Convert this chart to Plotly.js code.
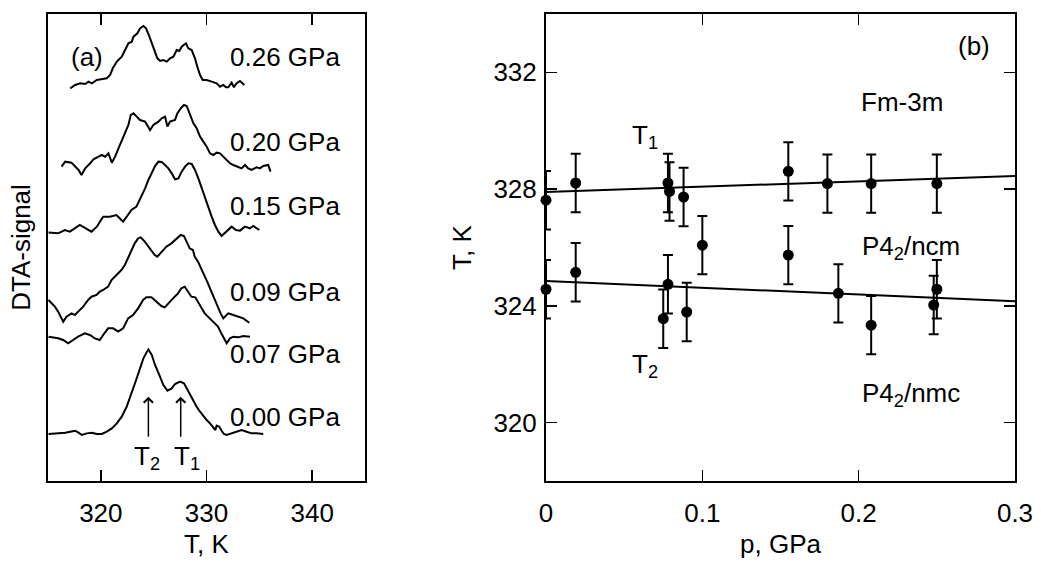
<!DOCTYPE html>
<html>
<head>
<meta charset="utf-8">
<script src="https://cdn.plot.ly/plotly-3.0.1.min.js"></script>
<style>html,body{margin:0;padding:0;background:#fff;}#chart{width:1041px;height:562px;}</style>
</head>
<body>
<div id="chart"></div>
<script>
// ---------- Panel (a): DTA curves (T in K, signal in arbitrary units) ----------
const temp026 = [317.10,317.57,318.04,318.52,318.83,319.15,319.62,320.09,320.56,320.88,321.13,321.51,321.76,321.98,322.30,322.61,322.93,323.09,323.46,323.71,324.03,324.28,324.60,324.97,325.35,325.61,325.92,326.24,326.55,326.87,327.18,327.43,327.65,328.06,328.28,328.60,328.91,329.13,329.39,329.64,330.02,330.49,330.96,331.28,331.59,331.84,332.06,332.38,332.60,332.85,333.17,333.58];
const sig026  = [84.09,84.80,85.16,85.01,85.51,85.16,85.87,86.01,86.23,86.94,88.37,89.80,90.30,90.86,92.29,93.72,94.07,95.14,95.86,96.93,97.43,96.93,95.14,93.00,90.51,89.94,90.15,89.80,90.51,90.86,92.29,92.08,93.00,93.72,92.65,92.29,90.51,88.72,86.94,85.87,85.87,85.51,85.16,84.44,84.80,84.30,84.30,85.29,84.30,85.16,85.65,84.80];

const temp020 = [316.28,316.63,317.22,317.57,317.89,318.17,318.52,318.99,319.30,319.78,320.09,320.41,320.72,321.04,321.35,321.67,321.98,322.30,322.61,322.83,323.09,323.40,323.71,324.19,324.66,324.97,325.45,325.76,326.08,326.30,326.55,327.02,327.24,327.56,327.87,328.13,328.44,328.76,329.07,329.39,329.70,330.02,330.33,330.65,330.96,331.28,331.59,331.91,332.22,332.54,333.01,333.32,333.64,333.95,334.27,334.74,335.06,335.37,335.84,336.06];
const sig020  = [67.31,68.38,68.17,67.31,66.60,65.53,66.95,68.03,68.88,69.45,69.81,69.45,70.17,68.17,69.45,71.24,73.02,74.45,76.23,78.37,78.73,78.02,77.30,76.95,75.16,76.23,76.95,77.66,78.02,75.88,76.95,77.30,78.73,79.80,80.52,80.30,78.37,76.59,75.52,73.74,72.67,71.59,70.17,69.81,70.31,70.17,69.45,68.74,68.03,67.67,67.31,66.95,67.67,66.95,66.60,67.17,66.95,67.45,67.67,66.24];

const temp015 = [315.05,315.96,316.59,317.07,318.01,319.11,319.62,320.22,320.85,321.48,322.11,322.58,322.90,323.37,323.68,324.19,324.50,324.82,325.13,325.45,325.76,326.08,326.39,326.71,327.02,327.34,327.65,327.97,328.28,328.60,328.91,329.23,329.54,329.86,330.17,330.49,330.80,331.12,331.43,331.91,332.38,332.79,333.17,333.64,334.11,334.43,335.00];
const sig015  = [53.20,53.04,53.75,53.39,54.82,53.39,54.46,56.60,56.60,56.96,55.53,56.96,58.03,58.75,60.17,62.67,64.46,66.03,67.45,68.38,68.31,67.67,66.95,65.88,64.60,64.81,66.24,67.31,68.03,67.88,66.60,64.81,62.67,60.53,58.39,56.60,54.82,53.39,52.47,53.39,54.46,53.75,53.61,54.46,54.11,54.61,53.75];

const temp009 = [315.05,315.65,315.96,316.44,316.75,317.22,317.54,317.85,318.33,318.80,319.11,319.59,319.90,320.22,320.69,321.01,321.48,321.95,322.27,322.58,322.90,323.21,323.53,323.78,324.16,324.63,325.10,325.35,325.73,326.20,326.68,327.15,327.56,327.87,328.09,328.41,328.72,328.88,329.20,329.51,329.83,330.14,330.46,330.77,331.02,331.34,331.59,332.06,332.54,333.01,333.48,334.05];
const sig009  = [38.76,37.33,36.26,34.12,35.19,35.90,35.55,36.26,37.33,38.76,39.47,39.83,40.54,40.90,41.61,43.04,44.11,45.18,46.25,47.68,49.11,50.89,51.96,52.18,51.25,49.82,48.39,48.04,49.11,50.18,50.89,51.75,52.68,52.46,51.25,49.82,49.46,48.04,46.97,45.54,44.11,42.33,40.54,38.76,37.33,35.90,34.83,35.90,35.55,35.19,34.83,33.90];

const temp007 = [315.05,315.96,316.44,316.91,317.38,317.85,318.48,318.96,319.43,319.90,320.22,320.69,321.16,321.64,322.11,322.58,323.05,323.53,324.00,324.31,324.79,325.26,325.73,326.05,326.52,326.99,327.31,327.62,327.94,328.25,328.57,328.94,329.20,329.51,329.83,330.30,330.77,331.09,331.40,331.72,331.91,332.22,332.54,333.01,333.48,334.11];
const sig007  = [30.90,30.55,30.19,29.48,30.19,30.90,31.62,31.26,30.55,30.19,31.26,32.69,32.69,31.98,32.69,34.83,35.55,36.97,38.76,39.33,39.33,38.40,37.47,37.19,38.40,39.47,40.18,41.26,41.61,40.54,39.47,39.33,38.40,37.33,35.90,34.83,33.76,33.05,31.62,30.19,29.48,30.55,30.90,30.76,31.05,30.90];

const temp000 = [315.05,316.15,316.63,317.10,317.57,317.89,318.20,318.67,319.15,319.62,320.09,320.56,321.04,321.51,321.98,322.45,322.93,323.34,323.71,324.03,324.28,324.50,324.82,325.13,325.54,325.92,326.30,326.71,327.02,327.50,327.87,328.13,328.44,328.76,329.07,329.39,329.70,330.02,330.33,330.65,330.84,330.96,331.21,331.43,331.65,331.91,332.38,332.85,333.32,333.80,334.27,334.74,335.37];
const sig000  = [10.06,10.20,10.35,10.56,10.77,10.35,9.85,10.20,10.35,10.06,10.06,10.56,11.27,12.35,13.77,15.91,18.77,21.62,24.12,26.26,27.33,28.19,26.98,24.84,22.69,20.55,19.34,19.84,20.77,21.27,20.91,19.84,18.41,16.99,15.91,14.84,13.92,13.06,12.35,11.49,10.92,11.85,11.63,10.77,10.06,9.85,10.20,10.56,10.92,10.56,10.20,10.20,10.06];

const pressureLabels = ['0.26 GPa','0.20 GPa','0.15 GPa','0.09 GPa','0.07 GPa','0.00 GPa'];
const transitionT = [324.50, 327.56];   // T2, T1 marked on the 0.00 GPa curve

// ---------- Panel (b): transition temperatures vs pressure ----------
const pT1 = [0, 0.019, 0.078, 0.079, 0.088, 0.155, 0.180, 0.208, 0.250];
const T1  = [327.62, 328.21, 328.21, 327.92, 327.73, 328.61, 328.19, 328.19, 328.19];
const pT2 = [0, 0.019, 0.075, 0.078, 0.090, 0.100, 0.155, 0.187, 0.208, 0.248, 0.250];
const T2  = [324.57, 325.15, 323.56, 324.74, 323.79, 326.08, 325.74, 324.43, 323.34, 324.03, 324.57];
const tError = 1.0;
const fitP  = [0, 0.3];
const fitT1 = [327.90, 328.45];
const fitT2 = [324.85, 324.16];

const FONT = 'Liberation Sans, Arial, Helvetica, sans-serif';
const curveLine = {color: 'black', width: 2};

const curves = [[temp026, sig026],[temp020, sig020],[temp015, sig015],[temp009, sig009],[temp007, sig007],[temp000, sig000]];
const traces = curves.map(c => ({
  x: c[0], y: c[1], type: 'scatter', mode: 'lines', line: curveLine,
  xaxis: 'x', yaxis: 'y', hoverinfo: 'skip', showlegend: false
}));

const errStyle = {type: 'constant', value: tError, color: 'black', thickness: 2, width: 5};
const mk = {color: 'black', size: 11};
traces.push({x: fitP, y: fitT1, type: 'scatter', mode: 'lines', line: {color: 'black', width: 2}, xaxis: 'x2', yaxis: 'y2', showlegend: false});
traces.push({x: fitP, y: fitT2, type: 'scatter', mode: 'lines', line: {color: 'black', width: 2}, xaxis: 'x2', yaxis: 'y2', showlegend: false});
traces.push({x: pT1, y: T1, type: 'scatter', mode: 'markers', marker: mk, error_y: errStyle, cliponaxis: false, xaxis: 'x2', yaxis: 'y2', showlegend: false});
traces.push({x: pT2, y: T2, type: 'scatter', mode: 'markers', marker: mk, error_y: errStyle, cliponaxis: false, xaxis: 'x2', yaxis: 'y2', showlegend: false});

const labelY = [90.9, 72.5, 58.95, 40.4, 27.2, 13.6];
const annotations = [];
pressureLabels.forEach((t, i) => annotations.push({
  xref: 'x', yref: 'y', x: 332.06, y: labelY[i], text: t, showarrow: false,
  xanchor: 'left', yanchor: 'middle', font: {family: FONT, size: 26, color: 'black'}
}));
annotations.push({xref: 'x', yref: 'y', x: 317.0, y: 90.9, text: '(a)', showarrow: false, xanchor: 'left', yanchor: 'middle', font: {family: FONT, size: 26, color: 'black'}});
transitionT.forEach((tt, i) => {
  annotations.push({xref: 'x', yref: 'y', x: tt, y: 18.05, axref: 'x', ayref: 'y', ax: tt, ay: 9.14,
    text: '', showarrow: true, arrowhead: 4, arrowsize: 1.2, arrowwidth: 1.5, arrowcolor: 'black'});
});
annotations.push({xref: 'x', yref: 'y', x: 324.4, y: 5.0, text: 'T<sub>2</sub>', showarrow: false, xanchor: 'center', yanchor: 'middle', font: {family: FONT, size: 26, color: 'black'}});
annotations.push({xref: 'x', yref: 'y', x: 328.2, y: 5.0, text: 'T<sub>1</sub>', showarrow: false, xanchor: 'center', yanchor: 'middle', font: {family: FONT, size: 26, color: 'black'}});

const bTexts = [
  {x: 0.262, y: 332.92, text: '(b)'},
  {x: 0.2003, y: 330.98, text: 'Fm-3m'},
  {x: 0.0537, y: 329.8, text: 'T<sub>1</sub>'},
  {x: 0.2007, y: 326.0, text: 'P4<sub>2</sub>/ncm'},
  {x: 0.0537, y: 321.95, text: 'T<sub>2</sub>'},
  {x: 0.2007, y: 320.95, text: 'P4<sub>2</sub>/nmc'}
];
bTexts.forEach(b => annotations.push({xref: 'x2', yref: 'y2', x: b.x, y: b.y, text: b.text, showarrow: false,
  xanchor: 'left', yanchor: 'middle', font: {family: FONT, size: 26, color: 'black'}}));

const axBase = {
  showline: true, linecolor: 'black', linewidth: 2, mirror: 'ticks',
  ticks: 'inside', ticklen: 11, tickwidth: 1.5, tickcolor: 'black',
  showgrid: false, zeroline: false, fixedrange: true,
  tickfont: {family: FONT, size: 26, color: 'black'}
};

const layout = {
  width: 1041, height: 562,
  margin: {l: 48, r: 26, t: 14, b: 81},
  paper_bgcolor: 'white', plot_bgcolor: 'white',
  font: {family: FONT, size: 26, color: 'black'},
  showlegend: false,
  xaxis: Object.assign({}, axBase, {
    domain: [0, 0.3278], range: [315, 345], tickvals: [320, 330, 340],
    ticklabelstandoff: 8,
    title: {text: 'T, K', font: {family: FONT, size: 26, color: 'black'}, standoff: 8}
  }),
  yaxis: Object.assign({}, axBase, {
    range: [0, 100], ticks: '', showticklabels: false, mirror: true,
    title: {text: 'DTA-signal', font: {family: FONT, size: 26, color: 'black'}, standoff: 8}
  }),
  xaxis2: Object.assign({}, axBase, {
    domain: [0.515, 1], range: [0, 0.3], tickvals: [0, 0.1, 0.2, 0.3], ticktext: ['0', '0.1', '0.2', '0.3'],
    anchor: 'y2', ticklabelstandoff: 8,
    title: {text: 'p, GPa', font: {family: FONT, size: 26, color: 'black'}, standoff: 8}
  }),
  yaxis2: Object.assign({}, axBase, {
    anchor: 'x2', range: [318, 334], tickvals: [320, 324, 328, 332],
    ticklabelstandoff: 2,
    title: {text: 'T, K', font: {family: FONT, size: 26, color: 'black'}, standoff: 14}
  }),
  annotations: annotations
};

Plotly.newPlot('chart', traces, layout, {displayModeBar: false, staticPlot: true});
</script>
</body>
</html>
